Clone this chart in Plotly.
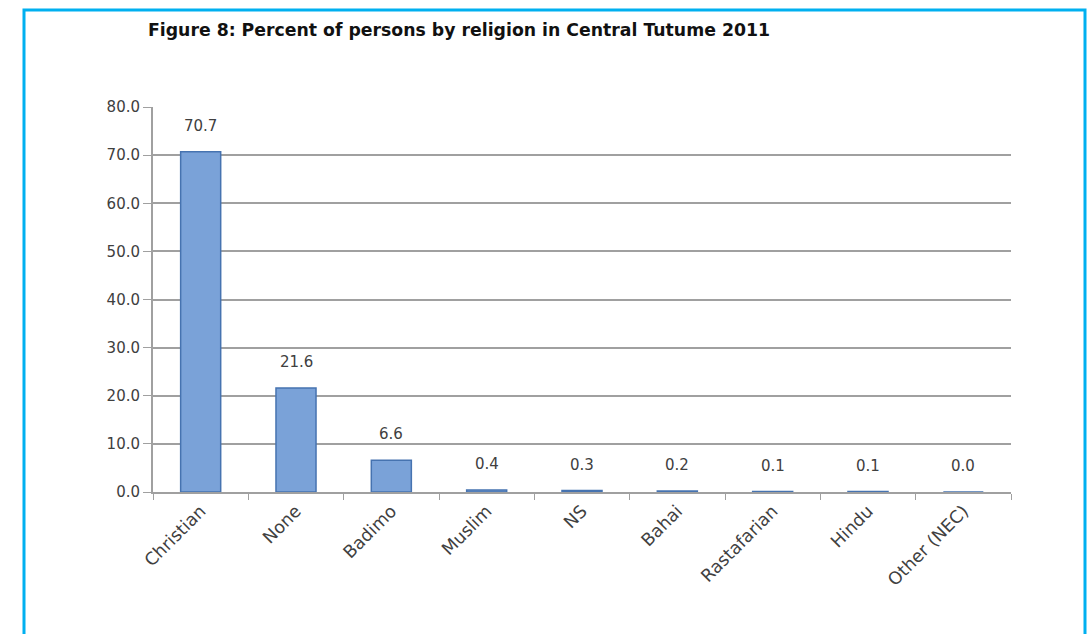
import plotly.graph_objects as go

categories = ["Christian", "None", "Badimo", "Muslim", "NS", "Bahai", "Rastafarian", "Hindu", "Other (NEC)"]
values = [70.7, 21.6, 6.6, 0.4, 0.3, 0.2, 0.1, 0.1, 0.0]
title_text = "Figure 8: Percent of persons by religion in Central Tutume 2011"

W, H = 1090, 634
L, R, T, B = 153, 79, 107, 142
pw, ph = W - L - R, H - T - B
FONT = "DejaVu Sans"

def px_x(x):
    return (x - L) / pw

def px_y(y):
    return 1 - (y - T) / ph

fig = go.Figure()
fig.add_trace(go.Bar(
    x=categories, y=values, width=0.42,
    marker=dict(color="#7AA2D8", line=dict(color="#4673B0", width=1.5)),
    hoverinfo="x+y",
))
for c, v in zip(categories, values):
    fig.add_annotation(x=c, y=v, text=f"{v:.1f}", showarrow=False, yshift=26,
                       font=dict(size=15, color="#404040", family=FONT))

fig.add_shape(type="rect", xref="paper", yref="paper",
              x0=px_x(24), x1=px_x(1085), y0=px_y(10), y1=px_y(700),
              line=dict(color="#00B0F0", width=3), layer="below")

fig.update_layout(
    width=W, height=H,
    margin=dict(l=L, r=R, t=T, b=B),
    paper_bgcolor="white", plot_bgcolor="white",
    showlegend=False,
    font=dict(family=FONT, size=15, color="#404040"),
    title=dict(text="<b>" + title_text + "</b>", xref="container", x=148 / W, xanchor="left",
               yref="container", y=1 - 30 / H, yanchor="middle",
               font=dict(size=17.3, color="#111111", family=FONT)),
    xaxis=dict(tickangle=-45, tickson="boundaries", ticks="outside", ticklen=6,
               tickcolor="#A0A0A0", showline=True, linecolor="#A0A0A0", linewidth=2,
               showgrid=False, tickfont=dict(size=17.5, color="#404040")),
    yaxis=dict(range=[0, 80], dtick=10, tickformat=".1f", ticks="outside", ticklen=8,
               tickcolor="#A0A0A0", showline=True, linecolor="#A0A0A0", linewidth=2,
               gridcolor="#A0A0A0", gridwidth=1.5, zeroline=False,
               tickfont=dict(size=15, color="#404040")),
)

fig.write_html("out.html", config={"displayModeBar": False},
               post_script="document.body.style.margin='0';")
